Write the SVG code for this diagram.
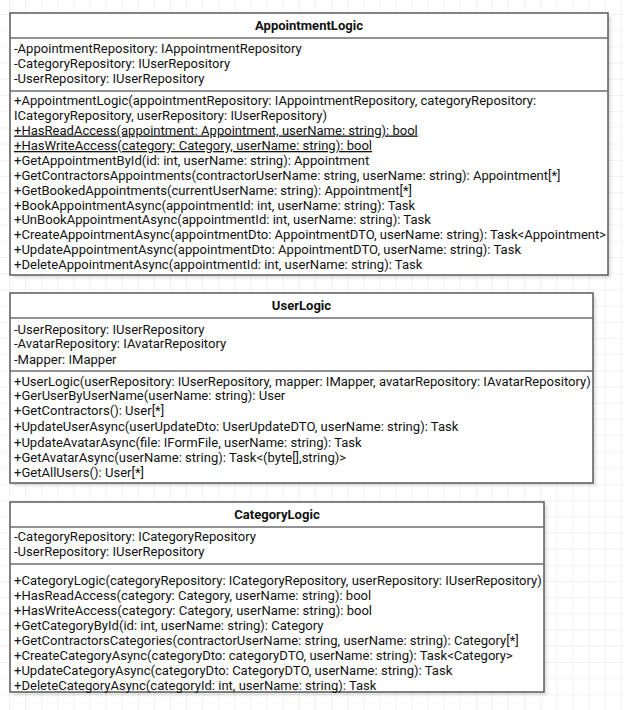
<svg xmlns="http://www.w3.org/2000/svg" width="624" height="710" viewBox="0 0 624 710">
<defs>
<pattern id="grid" x="9" y="14" width="16.1" height="16.2" patternUnits="userSpaceOnUse">
<path d="M0 0H16.1M0 0V16.2" fill="none" stroke="#e4e4e4" stroke-width="1"/>
</pattern>
<filter id="sh" x="-5%" y="-5%" width="110%" height="110%">
<feGaussianBlur stdDeviation="1.5"/>
</filter>
</defs>
<style>
.box{fill:#ffffff;stroke:#5a5a5a;stroke-width:1.5}
.shadow{fill:#000;opacity:0.12}
.div{stroke:#6e6e6e;stroke-width:1.5}
.t{font-family:Roboto,"Liberation Sans",sans-serif;font-size:13.05px;fill:#111}
.h{font-family:Roboto,"Liberation Sans",sans-serif;font-size:13.05px;font-weight:bold;fill:#111;text-anchor:middle}
.u{text-decoration:underline}
</style>
<rect width="624" height="710" fill="#ffffff"/>
<rect width="624" height="710" fill="url(#grid)"/>

<g id="AppointmentLogic">
<rect class="shadow" x="13" y="16" width="598" height="262" filter="url(#sh)"/>
<rect class="box" x="10" y="13" width="598" height="262"/>
<line class="div" x1="10" y1="38" x2="608" y2="38"/>
<line class="div" x1="10" y1="91" x2="608" y2="91"/>
<text class="h" x="309" y="30">AppointmentLogic</text>
<text class="t" x="14" y="52.5">-AppointmentRepository: IAppointmentRepository</text>
<text class="t" x="14" y="67.5">-CategoryRepository: IUserRepository</text>
<text class="t" x="14" y="82.5">-UserRepository: IUserRepository</text>
<text class="t" x="14" y="104.5">+AppointmentLogic(appointmentRepository: IAppointmentRepository, categoryRepository:</text>
<text class="t" x="14" y="119.5">ICategoryRepository, userRepository: IUserRepository)</text>
<text class="t u" x="14" y="134.5">+HasReadAccess(appointment: Appointment, userName: string): bool</text>
<text class="t u" x="14" y="150">+HasWriteAccess(category: Category, userName: string): bool</text>
<text class="t" x="14" y="165">+GetAppointmentById(id: int, userName: string): Appointment</text>
<text class="t" x="14" y="179.5">+GetContractorsAppointments(contractorUserName: string, userName: string): Appointment[*]</text>
<text class="t" x="14" y="194.5">+GetBookedAppointments(currentUserName: string): Appointment[*]</text>
<text class="t" x="14" y="209.5">+BookAppointmentAsync(appointmentId: int, userName: string): Task</text>
<text class="t" x="14" y="224">+UnBookAppointmentAsync(appointmentId: int, userName: string): Task</text>
<text class="t" x="14" y="238.5">+CreateAppointmentAsync(appointmentDto: AppointmentDTO, userName: string): Task&lt;Appointment&gt;</text>
<text class="t" x="14" y="253.5">+UpdateAppointmentAsync(appointmentDto: AppointmentDTO, userName: string): Task</text>
<text class="t" x="14" y="268.5">+DeleteAppointmentAsync(appointmentId: int, userName: string): Task</text>
</g>

<g id="UserLogic">
<rect class="shadow" x="13" y="296" width="583" height="190" filter="url(#sh)"/>
<rect class="box" x="10" y="293" width="583" height="190"/>
<line class="div" x1="10" y1="318" x2="593" y2="318"/>
<line class="div" x1="10" y1="371" x2="593" y2="371"/>
<text class="h" x="301.5" y="310">UserLogic</text>
<text class="t" x="14" y="333.5">-UserRepository: IUserRepository</text>
<text class="t" x="14" y="348">-AvatarRepository: IAvatarRepository</text>
<text class="t" x="14" y="363.5">-Mapper: IMapper</text>
<text class="t" x="14" y="385.5">+UserLogic(userRepository: IUserRepository, mapper: IMapper, avatarRepository: IAvatarRepository)</text>
<text class="t" x="14" y="400">+GerUserByUserName(userName: string): User</text>
<text class="t" x="14" y="415">+GetContractors(): User[*]</text>
<text class="t" x="14" y="431">+UpdateUserAsync(userUpdateDto: UserUpdateDTO, userName: string): Task</text>
<text class="t" x="14" y="446.5">+UpdateAvatarAsync(file: IFormFile, userName: string): Task</text>
<text class="t" x="14" y="461.5">+GetAvatarAsync(userName: string): Task&lt;(byte[],string)&gt;</text>
<text class="t" x="14" y="476.5">+GetAllUsers(): User[*]</text>
</g>

<g id="CategoryLogic">
<rect class="shadow" x="13" y="505" width="534" height="190" filter="url(#sh)"/>
<rect class="box" x="10" y="502" width="534" height="190"/>
<line class="div" x1="10" y1="527" x2="544" y2="527"/>
<line class="div" x1="10" y1="564" x2="544" y2="564"/>
<text class="h" x="277" y="519">CategoryLogic</text>
<text class="t" x="14" y="541">-CategoryRepository: ICategoryRepository</text>
<text class="t" x="14" y="556">-UserRepository: IUserRepository</text>
<text class="t" x="14" y="585">+CategoryLogic(categoryRepository: ICategoryRepository, userRepository: IUserRepository)</text>
<text class="t" x="14" y="600">+HasReadAccess(category: Category, userName: string): bool</text>
<text class="t" x="14" y="615">+HasWriteAccess(category: Category, userName: string): bool</text>
<text class="t" x="14" y="630">+GetCategoryById(id: int, userName: string): Category</text>
<text class="t" x="14" y="645">+GetContractorsCategories(contractorUserName: string, userName: string): Category[*]</text>
<text class="t" x="14" y="660">+CreateCategoryAsync(categoryDto: categoryDTO, userName: string): Task&lt;Category&gt;</text>
<text class="t" x="14" y="675">+UpdateCategoryAsync(categoryDto: CategoryDTO, userName: string): Task</text>
<text class="t" x="14" y="689.5">+DeleteCategoryAsync(categoryId: int, userName: string): Task</text>
</g>

<g id="connectors"></g>
</svg>
